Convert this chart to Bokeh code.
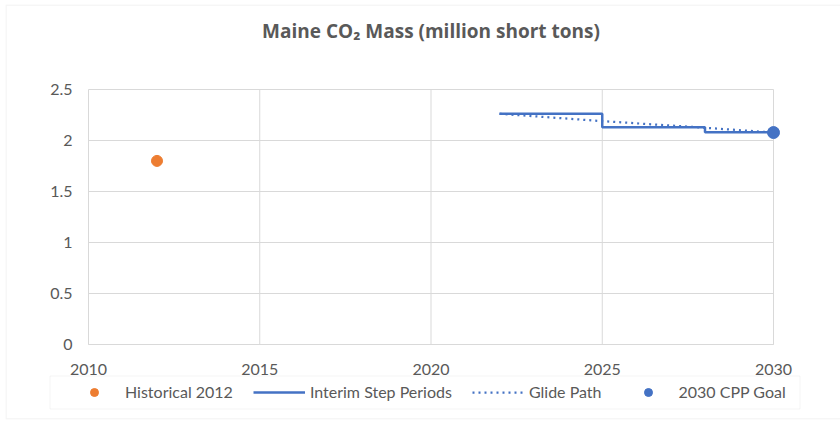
from bokeh.plotting import figure
from bokeh.models import FixedTicker, NumeralTickFormatter, Range1d, BoxAnnotation, Label
from bokeh.embed import file_html
from bokeh.resources import INLINE

# ---- data ----
hist_year = [2012]
hist_val = [1.80]
step_years = [2022, 2025, 2028, 2030]
step_vals = [2.262, 2.130, 2.081, 2.081]
glide_years = [2022, 2025, 2028, 2030]
glide_vals = [2.262, 2.190, 2.125, 2.078]
goal_year = [2030]
goal_val = [2.078]
x_ticks = [2010, 2015, 2020, 2025, 2030]
y_ticks = [0, 0.5, 1, 1.5, 2, 2.5]
title_text = "Maine CO\u2082 Mass (million short tons)"

ORANGE = "#ED7D31"
BLUE = "#4472C4"
GRID = "#D9D9D9"
TXT = "#595959"
FONT = "Lato"

# layout: plot area 2010..2030 -> px 88..773, 0..2.5 -> px 344..89 ; frame = chart box
X0, X1 = x_ticks[0], x_ticks[-1]
Y0, Y1 = y_ticks[0], y_ticks[-1]
pxx = (773 - 88) / (X1 - X0)
pxy = (344 - 89) / (Y1 - Y0)
frame_l, frame_t, frame_r, frame_b = 5, 4, 840, 419

p = figure(width=840, height=423, output_backend="svg", toolbar_location=None,
           x_range=Range1d(X0 - (88 - frame_l) / pxx, X1 + (frame_r - 773) / pxx),
           y_range=Range1d(Y0 - (frame_b - 344) / pxy, Y1 + (89 - frame_t) / pxy),
           min_border_left=frame_l, min_border_right=840 - frame_r,
           min_border_top=frame_t, min_border_bottom=423 - frame_b)
p.outline_line_color = None
p.background_fill_color = "white"
p.border_fill_color = "white"
p.xgrid.visible = False
p.ygrid.visible = False

# grid lines limited to the value area
p.segment(x0=x_ticks, y0=[Y0] * len(x_ticks), x1=x_ticks, y1=[Y1] * len(x_ticks),
          line_color=GRID, line_width=1)
p.segment(x0=[X0] * len(y_ticks), y0=y_ticks, x1=[X1] * len(y_ticks), y1=y_ticks,
          line_color=GRID, line_width=1)

# axes at fixed locations inside the chart box
xa = p.xaxis[0]
ya = p.yaxis[0]
xa.fixed_location = Y0
ya.fixed_location = X0
xa.bounds = (X0, X1)
ya.bounds = (Y0, Y1)
xa.ticker = FixedTicker(ticks=x_ticks)
ya.ticker = FixedTicker(ticks=y_ticks)
ya.formatter = NumeralTickFormatter(format="0.[0]")
for ax in (xa, ya):
    ax.major_tick_line_color = None
    ax.minor_tick_line_color = None
    ax.major_tick_out = 0
    ax.major_tick_in = 0
    ax.minor_tick_out = 0
    ax.minor_tick_in = 0
    ax.major_label_text_font = FONT
    ax.major_label_text_font_size = "16px"
    ax.major_label_text_color = TXT
ya.axis_line_color = None
xa.axis_line_color = GRID
xa.axis_line_width = 1
ya.major_label_standoff = 16
xa.major_label_standoff = 19

# title
p.add_layout(Label(x=(X0 + X1) / 2, y=3.07, text=title_text, text_align="center",
                   text_baseline="alphabetic", text_font="Open Sans",
                   text_font_size="19px", text_font_style="bold", text_color=TXT))

# series
p.scatter(hist_year, hist_val, size=11, color=ORANGE, legend_label="Historical 2012")
p.step(step_years, step_vals, mode="after", line_color=BLUE, line_width=2.5,
       legend_label="Interim Step Periods")
p.line(glide_years, glide_vals, line_color=BLUE, line_width=2.25, line_dash="2 4",
       legend_label="Glide Path")
p.scatter(goal_year, goal_val, size=12, color=BLUE, legend_label="2030 CPP Goal")

lg = p.legend[0]
lg.orientation = "horizontal"
lg.location = (68 - frame_l, frame_b - 401.5)
lg.padding = 0
lg.margin = 0
lg.spacing = 20
lg.glyph_width = 52
lg.glyph_height = 20
lg.label_height = 20
lg.label_standoff = 5
lg.label_text_font = FONT
lg.label_text_font_size = "16px"
lg.label_text_color = TXT
lg.border_line_color = None
lg.background_fill_alpha = 0

# legend frame and chart border
p.add_layout(BoxAnnotation(left=49.5, right=799.5, top=375.5, bottom=408.5,
                           left_units="canvas", right_units="canvas",
                           top_units="canvas", bottom_units="canvas",
                           fill_color=None, fill_alpha=0, line_color=GRID, line_width=1))
p.add_layout(BoxAnnotation(left=5.5, right=860, top=4.5, bottom=418.5,
                           left_units="canvas", right_units="canvas",
                           top_units="canvas", bottom_units="canvas",
                           fill_color=None, fill_alpha=0, line_color=GRID, line_width=1.5))

open("out.html", "w").write(file_html(p, INLINE))
